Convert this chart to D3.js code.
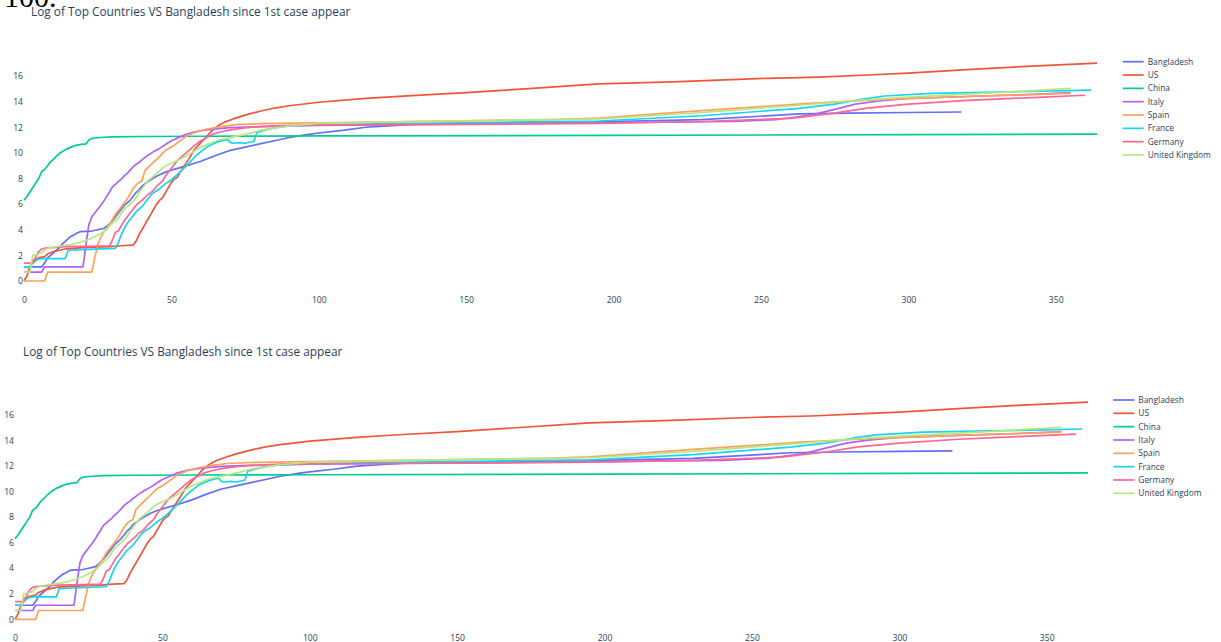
<!DOCTYPE html>
<html>
<head>
<meta charset="utf-8">
<script src="https://cdn.jsdelivr.net/npm/d3@7"></script>
<style>
  html, body { margin: 0; padding: 0; background: #fff; }
  svg { display: block; }
  text { font-family: "Open Sans", "Noto Sans", sans-serif; }
</style>
</head>
<body>
<svg id="chart" width="1221" height="642"></svg>
<script>
// ---------------- DATA (day since 1st case, log of cumulative cases) ----------------
const countries = ["Bangladesh", "US", "China", "Italy", "Spain", "France", "Germany", "United Kingdom"];
const chartTitle = "Log of Top Countries VS Bangladesh since 1st case appear";
const xTicks = [0, 50, 100, 150, 200, 250, 300, 350];
const yTicks = [0, 2, 4, 6, 8, 10, 12, 14, 16];
const headerText = "100.";

const bangladesh = [[0,1.1],[6,1.1],[7,1.4],[8,1.8],[9,2.0],[10,2.2],[11,2.4],[12,2.6],[13,2.9],[14,3.1],[15,3.3],[16,3.5],[17,3.6],[18,3.75],[19,3.85],[21,3.87],[23,3.9],[25,4.0],[27,4.1],[28,4.25],[29,4.45],[30,4.7],[31,5.0],[32,5.3],[33,5.6],[34,5.9],[35,6.1],[36,6.3],[37,6.6],[38,6.9],[39,7.1],[40,7.4],[42,7.75],[44,8.05],[46,8.3],[48,8.5],[50,8.65],[53,8.85],[56,9.05],[60,9.35],[65,9.8],[70,10.2],[75,10.45],[80,10.7],[85,10.95],[90,11.2],[96,11.43],[100,11.55],[108,11.75],[116,12.0],[125,12.12],[133,12.25],[150,12.3],[170,12.35],[195,12.43],[230,12.6],[263,13.04],[280,13.1],[300,13.15],[318,13.19]];

const us = [[0,0],[1,0.4],[2,1.1],[3,1.6],[5,1.8],[7,1.9],[8,2.1],[10,2.3],[12,2.4],[14,2.5],[20,2.6],[29,2.68],[33,2.75],[37,2.8],[38,3.1],[39,3.6],[40,4.0],[41,4.4],[42,4.8],[43,5.2],[44,5.6],[45,6.0],[46,6.3],[47,6.5],[48,6.9],[49,7.3],[50,7.7],[51,7.95],[52,8.1],[53,8.5],[54,8.85],[55,9.2],[56,9.55],[57,9.95],[58,10.3],[60,10.8],[62,11.3],[64,11.8],[66,12.15],[68,12.4],[71,12.65],[75,12.95],[80,13.25],[85,13.5],[90,13.68],[100,13.95],[116,14.25],[130,14.45],[150,14.7],[170,15.0],[195,15.38],[220,15.55],[252,15.82],[270,15.92],[286,16.08],[300,16.22],[320,16.5],[340,16.75],[364,17.0]];

const china = [[0,6.3],[1,6.6],[2,6.95],[3,7.3],[4,7.65],[5,8.0],[6,8.55],[7,8.7],[8,9.0],[9,9.3],[10,9.5],[11,9.75],[12,9.95],[13,10.1],[14,10.25],[15,10.35],[16,10.45],[17,10.55],[18,10.6],[19,10.65],[20,10.68],[21,10.7],[22,11.0],[23,11.12],[24,11.16],[26,11.2],[30,11.25],[40,11.28],[60,11.3],[100,11.32],[200,11.37],[300,11.42],[364,11.47]];

const italy = [[0,0.69],[6,0.69],[7,1.1],[20,1.1],[21,2.8],[22,4.4],[23,5.0],[24,5.3],[25,5.6],[26,5.9],[27,6.2],[28,6.6],[29,6.95],[30,7.35],[31,7.55],[32,7.75],[33,7.95],[34,8.2],[35,8.4],[36,8.65],[37,8.9],[38,9.1],[39,9.25],[40,9.45],[42,9.8],[44,10.1],[46,10.35],[48,10.65],[50,10.95],[52,11.15],[55,11.45],[58,11.65],[62,11.8],[66,11.9],[70,11.97],[80,12.05],[100,12.15],[150,12.25],[200,12.35],[240,12.45],[255,12.6],[262,12.8],[268,13.0],[275,13.4],[282,13.8],[290,14.05],[300,14.25],[320,14.4],[340,14.55],[355,14.7]];

const spain = [[0,0],[7,0],[8,0.69],[23,0.69],[24,1.8],[25,2.8],[26,3.4],[27,3.8],[28,4.1],[29,4.4],[30,4.8],[31,5.2],[32,5.5],[33,5.8],[34,6.1],[35,6.4],[36,6.8],[37,7.2],[38,7.5],[39,7.7],[40,7.8],[41,8.6],[42,8.85],[45,9.5],[48,10.2],[51,10.6],[55,11.3],[58,11.6],[62,11.85],[67,12.05],[72,12.2],[80,12.28],[100,12.35],[150,12.5],[180,12.6],[195,12.72],[230,13.3],[265,13.85],[290,14.15],[320,14.4],[355,14.65]];

const france = [[0,1.1],[2,1.1],[3,1.4],[4,1.6],[5,1.7],[6,1.75],[14,1.75],[15,2.4],[20,2.45],[31,2.55],[32,3.0],[33,3.6],[34,4.1],[35,4.5],[36,4.8],[37,5.1],[38,5.4],[39,5.6],[40,5.8],[41,6.1],[42,6.4],[43,6.7],[44,6.9],[45,7.05],[46,7.2],[47,7.4],[48,7.6],[49,7.75],[50,7.9],[51,8.1],[52,8.3],[54,8.75],[56,9.2],[58,9.7],[60,10.1],[62,10.45],[64,10.7],[66,10.88],[68,11.0],[69,11.05],[70,10.8],[71,10.75],[73,10.8],[75,10.75],[77,10.85],[78,10.9],[79,11.6],[80,11.65],[82,11.8],[85,11.95],[90,12.1],[100,12.2],[150,12.35],[195,12.49],[230,12.9],[263,13.48],[275,13.8],[284,14.18],[292,14.44],[308,14.65],[330,14.75],[345,14.82],[362,14.9]];

const germany = [[0,1.39],[3,1.39],[4,1.9],[5,2.3],[6,2.5],[7,2.56],[14,2.68],[20,2.7],[29,2.75],[30,3.2],[31,3.8],[32,3.9],[33,4.3],[34,4.7],[35,5.0],[36,5.3],[37,5.6],[38,5.9],[39,6.1],[40,6.3],[41,6.5],[42,6.75],[43,6.9],[44,7.1],[45,7.4],[46,7.6],[47,7.8],[48,8.2],[50,8.8],[52,9.4],[54,9.8],[56,10.2],[58,10.6],[60,10.95],[62,11.2],[64,11.45],[67,11.65],[70,11.8],[75,11.95],[80,12.05],[90,12.15],[100,12.18],[150,12.22],[195,12.3],[230,12.45],[260,12.7],[275,13.1],[286,13.5],[300,13.8],[320,14.1],[340,14.3],[360,14.5]];

const unitedKingdom = [[0,0.69],[2,0.69],[3,2.0],[5,2.1],[6,2.2],[7,2.4],[8,2.55],[10,2.65],[13,2.75],[16,2.85],[18,2.95],[20,3.1],[22,3.25],[24,3.45],[26,3.7],[28,4.0],[29,4.3],[30,4.5],[31,4.7],[32,4.9],[33,5.3],[34,5.6],[35,5.8],[36,6.0],[37,6.2],[38,6.5],[39,6.9],[40,7.2],[41,7.5],[42,7.8],[45,8.4],[48,9.0],[53,9.5],[56,9.9],[60,10.45],[66,11.0],[71,11.25],[76,11.5],[80,11.75],[85,11.95],[90,12.1],[100,12.3],[130,12.45],[195,12.65],[230,13.15],[263,13.72],[284,14.12],[300,14.35],[330,14.7],[355,15.04]];

const seriesData = [bangladesh, us, china, italy, spain, france, germany, unitedKingdom];

// ---------------- STYLE ----------------
const colors = ["#636efa", "#EF553B", "#00cc96", "#ab63fa", "#FFA15A", "#19d3f3", "#FF6692", "#B6E880"];
const textColor = "#2a3f5f";

const svg = d3.select("#chart");

svg.append("text")
  .attr("x", 4).attr("y", 7)
  .style("font-family", "'Liberation Serif', 'DejaVu Serif', serif")
  .style("font-size", "30px")
  .attr("fill", "#000")
  .text(headerText);

function drawChart(cfg) {
  const g = svg.append("g");
  const x = d3.scaleLinear().domain([0, 364]).range([cfg.x0, cfg.x1]);
  const y = d3.scaleLinear().domain([0, 17]).range([cfg.y0, cfg.y1]);

  g.append("text")
    .attr("x", cfg.titleX).attr("y", cfg.titleY)
    .attr("dy", "0.35em")
    .attr("fill", textColor)
    .style("font-size", "11.85px")
    .text(chartTitle);

  const xAxis = d3.axisBottom(x).tickValues(xTicks).tickSize(0).tickPadding(0);
  const gx = g.append("g").attr("transform", `translate(0,${cfg.xLabelY})`).call(xAxis);
  gx.select(".domain").remove();
  gx.selectAll("text").attr("dy", "0.35em").attr("y", 0)
    .attr("fill", textColor).style("font-size", "8.6px").style("font-family", "'Open Sans', sans-serif");

  const yAxis = d3.axisLeft(y).tickValues(yTicks).tickSize(0).tickPadding(0);
  const gy = g.append("g").attr("transform", `translate(${cfg.yLabelX},0)`).call(yAxis);
  gy.select(".domain").remove();
  gy.selectAll("text").attr("x", 0)
    .attr("fill", textColor).style("font-size", "8.6px").style("font-family", "'Open Sans', sans-serif");

  const line = d3.line().x(d => x(d[0])).y(d => y(d[1]));
  seriesData.forEach((s, i) => {
    g.append("path")
      .datum(s)
      .attr("d", line)
      .attr("fill", "none")
      .attr("stroke", colors[i])
      .attr("stroke-width", 1.7)
      .attr("stroke-linejoin", "round");
  });

  const lg = g.append("g");
  countries.forEach((name, i) => {
    const yy = cfg.legendY + i * 13.33;
    lg.append("line")
      .attr("x1", cfg.legendX).attr("x2", cfg.legendX + 21)
      .attr("y1", yy).attr("y2", yy)
      .attr("stroke", colors[i]).attr("stroke-width", 1.7);
    lg.append("text")
      .attr("x", cfg.legendX + 25).attr("y", yy)
      .attr("dy", "0.35em")
      .attr("fill", textColor)
      .style("font-size", "8.4px")
      .text(name);
  });
}

drawChart({ x0: 24, x1: 1097, y0: 281, y1: 63.2, titleX: 31, titleY: 12,
  xLabelY: 300, yLabelX: 23, legendX: 1122.7, legendY: 61.7 });
drawChart({ x0: 15, x1: 1088, y0: 619.3, y1: 402.2, titleX: 23, titleY: 351.5,
  xLabelY: 637.5, yLabelX: 14, legendX: 1113.3, legendY: 400 });
</script>
</body>
</html>
